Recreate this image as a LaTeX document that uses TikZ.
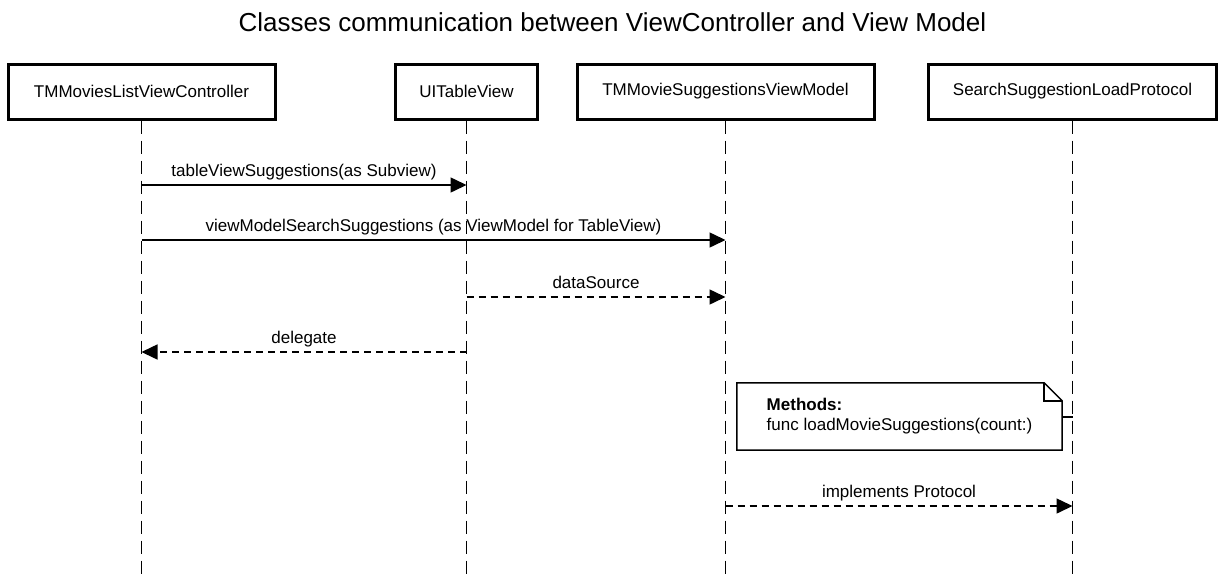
\documentclass[tikz,border=0pt]{standalone}
\usepackage{fontspec}
\setmainfont{Liberation Sans}
\usetikzlibrary{arrows.meta}

\begin{document}
\begin{tikzpicture}[x=1pt,y=-1pt,line join=miter,
  actor/.style={draw,line width=3pt,minimum width=#1,minimum height=55pt,inner sep=0pt,font=\fontsize{17}{20}\selectfont},
  lifeline/.style={line width=1.5pt,dash pattern=on 13pt off 7pt},
  msg/.style={line width=1.5pt,-{Triangle[length=16pt,width=15pt]}},
  reply/.style={msg,dash pattern=on 7pt off 5pt},
  msglabel/.style={font=\fontsize{17}{20}\selectfont,anchor=south,text height=12pt,text depth=4pt,inner ysep=4pt},
  notebox/.style={minimum width=325pt,minimum height=67pt,inner sep=0pt,align=left,font=\fontsize{17}{20}\selectfont}]
\useasboundingbox (0,0) rectangle (1225,576);
\node[font=\fontsize{26}{30}\selectfont] (title) at (612.5,22) {Classes communication between ViewController and View Model};
% participants
\node[actor=267pt] (vc) at (141.5,91.5) {TMMoviesListViewController};
\node[actor=142pt] (tv) at (466.5,91.5) {UITableView};
\node[actor=297pt] (vm) at (725.5,91.5) {TMMovieSuggestionsViewModel};
\node[actor=288pt] (sp) at (1072.5,91.5) {SearchSuggestionLoadProtocol};
\coordinate (floor) at (0,576);
\draw[lifeline] (vc.south) -- (vc |- floor);
\draw[lifeline] (tv.south) -- (tv |- floor);
\draw[lifeline] (vm.south) -- (vm |- floor);
\draw[lifeline] (sp.south) -- (sp |- floor);
% message rows
\coordinate (r1) at (0,185);
\coordinate (r2) at (0,240);
\coordinate (r3) at (0,297);
\coordinate (r4) at (0,352);
\coordinate (r5) at (0,417);
\coordinate (r6) at (0,506);
\draw[msg] (vc |- r1) -- node[msglabel] {tableViewSuggestions(as Subview)} (tv |- r1);
\draw[msg] (vc |- r2) -- node[msglabel] {viewModelSearchSuggestions (as ViewModel for TableView)} (vm |- r2);
\draw[reply] (tv |- r3) -- node[msglabel] {dataSource} (vm |- r3);
\draw[reply] (tv |- r4) -- node[msglabel] {delegate} (vc |- r4);
% note on the protocol
\node[notebox] (note) at (899.5,416.5) {\textbf{Methods:}\\func loadMovieSuggestions(count:)};
\draw[line width=1.5pt] (note.south west) -- (note.north west) -- ([xshift=-18pt]note.north east)
  -- ([yshift=-18pt]note.north east) -- (note.south east) -- cycle;
\draw[line width=1.5pt] ([xshift=-18pt]note.north east) -- ([xshift=-18pt,yshift=-18pt]note.north east) -- ([yshift=-18pt]note.north east);
\draw[line width=1.5pt] (note.east |- r5) -- (sp |- r5);
\draw[reply] (vm |- r6) -- node[msglabel] {implements Protocol} (sp |- r6);
\end{tikzpicture}
\end{document}
